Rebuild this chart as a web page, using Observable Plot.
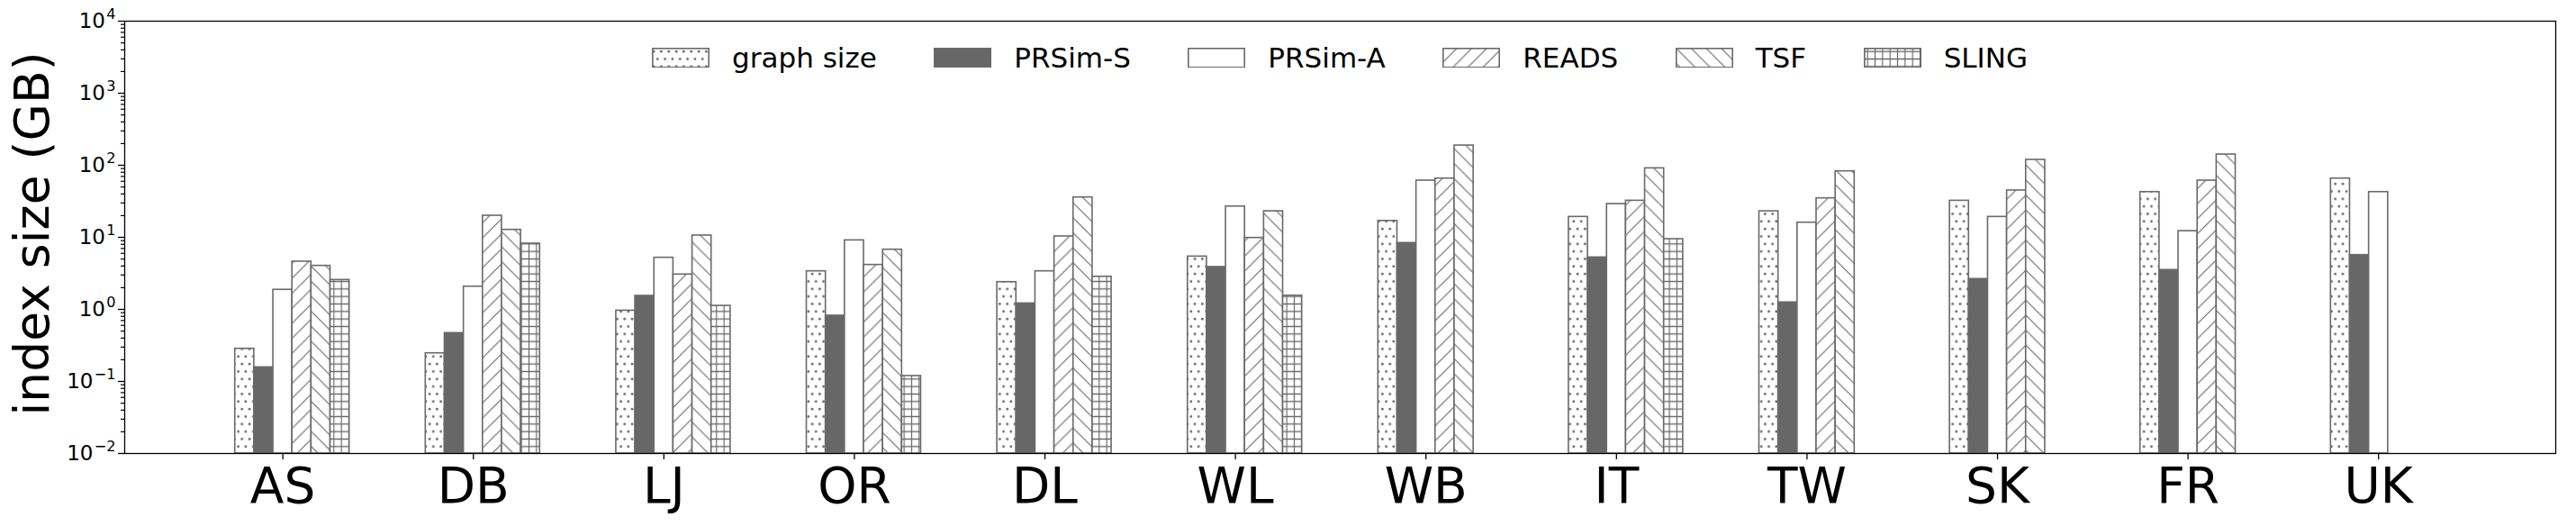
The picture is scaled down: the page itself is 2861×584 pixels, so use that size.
<!DOCTYPE html>
<html><head><meta charset="utf-8">
<script src="https://cdn.jsdelivr.net/npm/d3@7"></script>
<script src="https://cdn.jsdelivr.net/npm/@observablehq/plot@0.6"></script>
<style>
html,body{margin:0;padding:0;background:#fff;}
#wrap{position:relative;width:2861px;height:584px;font-family:"DejaVu Sans",sans-serif;}
#legend{position:absolute;left:138px;width:2700px;top:52.7px;height:22.6px;display:flex;justify-content:center;align-items:center;font-size:31px;color:#000;}
.item{display:flex;align-items:center;margin-right:63.5px;white-space:nowrap}
.item:last-child{margin-right:0}
.item svg{margin-right:25px;display:block}
</style></head><body>
<svg width="0" height="0" style="position:absolute">
<defs>
 <pattern id="p-dots" patternUnits="userSpaceOnUse" width="8.333" height="16.667">
   <rect width="8.333" height="16.667" fill="#fff"/>
   <circle cx="2.08" cy="4.17" r="1.4" fill="#6a6a6a"/>
   <circle cx="6.25" cy="12.5" r="1.4" fill="#6a6a6a"/>
 </pattern>
 <pattern id="p-fwd" patternUnits="userSpaceOnUse" width="16.667" height="16.667">
   <rect width="16.667" height="16.667" fill="#fff"/>
   <path d="M0,16.667L16.667,0M-4.17,4.17L4.17,-4.17M12.5,20.83L20.83,12.5" stroke="#6a6a6a" stroke-width="1.2" fill="none"/>
 </pattern>
 <pattern id="p-back" patternUnits="userSpaceOnUse" width="16.667" height="16.667">
   <rect width="16.667" height="16.667" fill="#fff"/>
   <path d="M0,0L16.667,16.667M-4.17,12.5L4.17,20.83M12.5,-4.17L20.83,4.17" stroke="#6a6a6a" stroke-width="1.2" fill="none"/>
 </pattern>
 <pattern id="p-grid" patternUnits="userSpaceOnUse" width="8.333" height="8.333">
   <rect width="8.333" height="8.333" fill="#fff"/>
   <path d="M0,4.17H8.333M4.17,0V8.333" stroke="#6a6a6a" stroke-width="1.2" fill="none"/>
 </pattern>
</defs></svg>
<div id="wrap"><div id="legend"></div></div>
<script>
// ---- data ----
const categories = ["AS","DB","LJ","OR","DL","WL","WB","IT","TW","SK","FR","UK"];
const seriesNames = ["graph size","PRSim-S","PRSim-A","READS","TSF","SLING"];
const graphSize = [0.284, 0.246, 0.96, 3.38, 2.39, 5.41, 16.9, 19.2, 23.0, 32.2, 42.5, 65.5];
const prsimS    = [0.157, 0.469, 1.54, 0.818, 1.21, 3.87, 8.34, 5.26, 1.25, 2.64, 3.52, 5.67];
const prsimA    = [1.87, 2.07, 5.21, 9.08, 3.38, 26.8, 61.3, 29.0, 16.0, 19.2, 12.2, 42.5];
const reads     = [4.60, 19.95, 3.05, 4.14, 10.3, 9.81, 65.5, 32.2, 34.8, 44.7, 61.3, null];
const tsf       = [4.02, 12.7, 10.6, 6.74, 35.8, 23.0, 188, 90.8, 82.5, 119, 141, null];
const sling     = [2.56, 8.18, 1.12, 0.119, 2.84, 1.55, null, 9.44, null, null, null, null];
const yTicks = [1e-2, 1e-1, 1e0, 1e1, 1e2, 1e3, 1e4];

// ---- styles ----
const fills = ["url(#p-dots)", "#676767", "#ffffff", "url(#p-fwd)", "url(#p-back)", "url(#p-grid)"];
const edge = "#6a6a6a";
const seriesValues = [graphSize, prsimS, prsimA, reads, tsf, sling];
const barW = 0.1;

const rows = [];
seriesValues.forEach((vals, s) => vals.forEach((v, i) => {
  if (v != null) rows.push({cat: categories[i], i, s, series: seriesNames[s], value: v});
}));

const minorTicks = [];
for (let k = -2; k < 4; k++) for (let m = 2; m < 10; m++) minorTicks.push(m * Math.pow(10, k));

const barMarks = seriesNames.map((name, s) =>
  Plot.rect(rows.filter(d => d.s === s), {
    x1: d => d.i + (d.s - 2) * barW - barW / 2,
    x2: d => d.i + (d.s - 2) * barW + barW / 2,
    y1: yTicks[0],
    y2: "value",
    fill: fills[s],
    stroke: edge,
    strokeWidth: 1.6
  })
);

const chart = Plot.plot({
  width: 2861, height: 584,
  marginLeft: 138, marginRight: 23, marginTop: 23, marginBottom: 81,
  style: {fontFamily: "DejaVu Sans, sans-serif", background: "#fff", color: "#000"},
  x: {type: "linear", domain: [-0.83, 11.93]},
  y: {type: "log", domain: [yTicks[0], yTicks[yTicks.length - 1]]},
  marks: [
    ...barMarks,
    Plot.axisY(minorTicks, {tickSize: 4, fill: "none", strokeWidth: 1.2, label: null}),
    Plot.axisY(yTicks, {tickSize: 7, tickPadding: 3, strokeWidth: 1.3, fontSize: 23,
      tickFormat: v => String(Math.round(Math.log10(v))), label: null}),
    Plot.axisX(d3.range(categories.length), {tickSize: 7, tickPadding: 8, strokeWidth: 1.3, fontSize: 55,
      tickFormat: i => categories[i], label: null}),
    Plot.text(["index size (GB)"], {frameAnchor: "left", rotate: -90, dx: -85, dy: -4,
      fontSize: 53.5, textAnchor: "middle", lineAnchor: "bottom"}),
    Plot.frame({stroke: "#000", strokeWidth: 1.3})
  ]
});

// superscript formatting of y tick labels (10^k)
d3.select(chart).selectAll('g[aria-label="y-axis tick label"] text').each(function () {
  const k = this.textContent;
  const s = k.startsWith("-") ? "\u2212" + k.slice(1) : k;
  this.textContent = "";
  const t = d3.select(this);
  t.append("tspan").text("10");
  t.append("tspan").attr("dx", "0.08em").attr("dy", "-0.62em").attr("font-size", "0.7em").text(s);
});

const wrap = document.getElementById("wrap");
wrap.insertBefore(chart, wrap.firstChild);

// legend
const legend = d3.select("#legend");
seriesNames.forEach((name, s) => {
  const it = legend.append("div").attr("class", "item");
  const sv = it.append("svg").attr("width", 64).attr("height", 22.6);
  sv.append("rect").attr("x", 0.8).attr("y", 0.8).attr("width", 62.4).attr("height", 21)
    .attr("fill", fills[s]).attr("stroke", edge).attr("stroke-width", 1.6);
  it.append("span").text(name);
});
</script>
</body></html>
